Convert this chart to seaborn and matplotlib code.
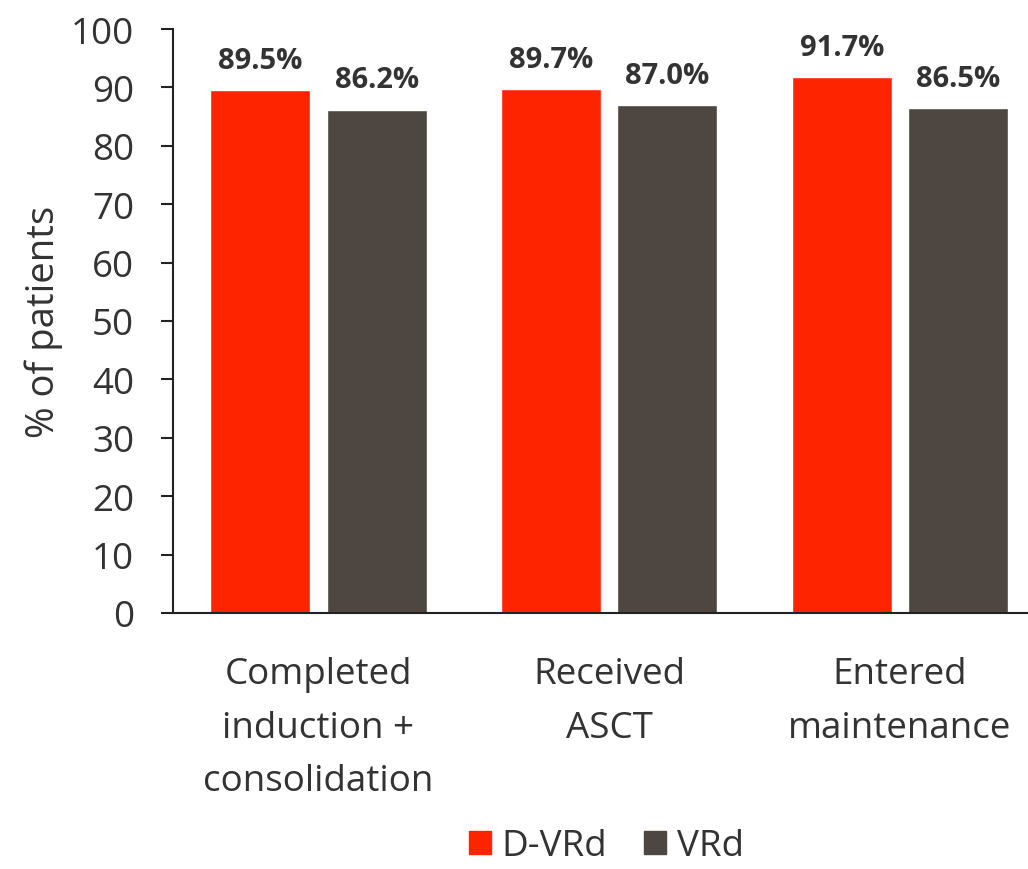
import matplotlib
matplotlib.use("Agg")
import matplotlib.pyplot as plt
import seaborn as sns
import pandas as pd

categories = ["Completed\ninduction +\nconsolidation", "Received\nASCT", "Entered\nmaintenance"]
arms = ["D-VRd", "VRd"]
dvrd_values = [89.5, 89.7, 91.7]
vrd_values = [86.2, 87.0, 86.5]
arm_colors = ["#FF2400", "#4E4640"]

sns.set_theme(style="white")
plt.rcParams["font.family"] = ["Open Sans", "DejaVu Sans"]
text_color = "#333333"

df = pd.DataFrame({
    "category": categories * 2,
    "arm": [arms[0]] * len(categories) + [arms[1]] * len(categories),
    "value": dvrd_values + vrd_values,
})

fig = plt.figure(figsize=(10.28, 8.70), dpi=100)
ax = fig.add_axes([0.1683, 0.2943, 0.8317, 0.6712])

sns.barplot(data=df, x="category", y="value", hue="arm", order=categories,
            hue_order=arms, palette=arm_colors, width=0.8, gap=0.14,
            saturation=1, ax=ax, legend=False)

for container in ax.containers:
    ax.bar_label(container, fmt="%.1f%%", padding=11, fontsize=21,
                 fontweight="bold", color=text_color)

ax.set_ylim(0, 100)
ax.set_xlim(-0.5, 2.44)
ax.set_yticks(range(0, 101, 10))
ax.set_xlabel("")
ax.set_ylabel("% of patients", fontsize=27.5, color=text_color, labelpad=6)

for side in ["top", "right"]:
    ax.spines[side].set_visible(False)
for side in ["left", "bottom"]:
    ax.spines[side].set_color("#222222")
    ax.spines[side].set_linewidth(1.5)

ax.tick_params(axis="y", length=9, width=1.5, color="#222222", pad=19,
               labelsize=26.5, labelcolor=text_color, left=True)
ax.tick_params(axis="x", length=0, pad=31, labelsize=26.5, labelcolor=text_color)
for lbl in ax.get_xticklabels():
    lbl.set_linespacing(1.65)

handles = [plt.Rectangle((0, 0), 1, 1, color=c) for c in arm_colors]
fig.legend(handles, arms, loc="center", bbox_to_anchor=(0.59, 0.026),
           ncol=2, frameon=False, fontsize=26.5, handlelength=0.6,
           handleheight=0.6, handletextpad=0.3, columnspacing=1.0,
           labelcolor=text_color, borderpad=0)

fig.savefig("out.png", dpi=100, facecolor="white")
